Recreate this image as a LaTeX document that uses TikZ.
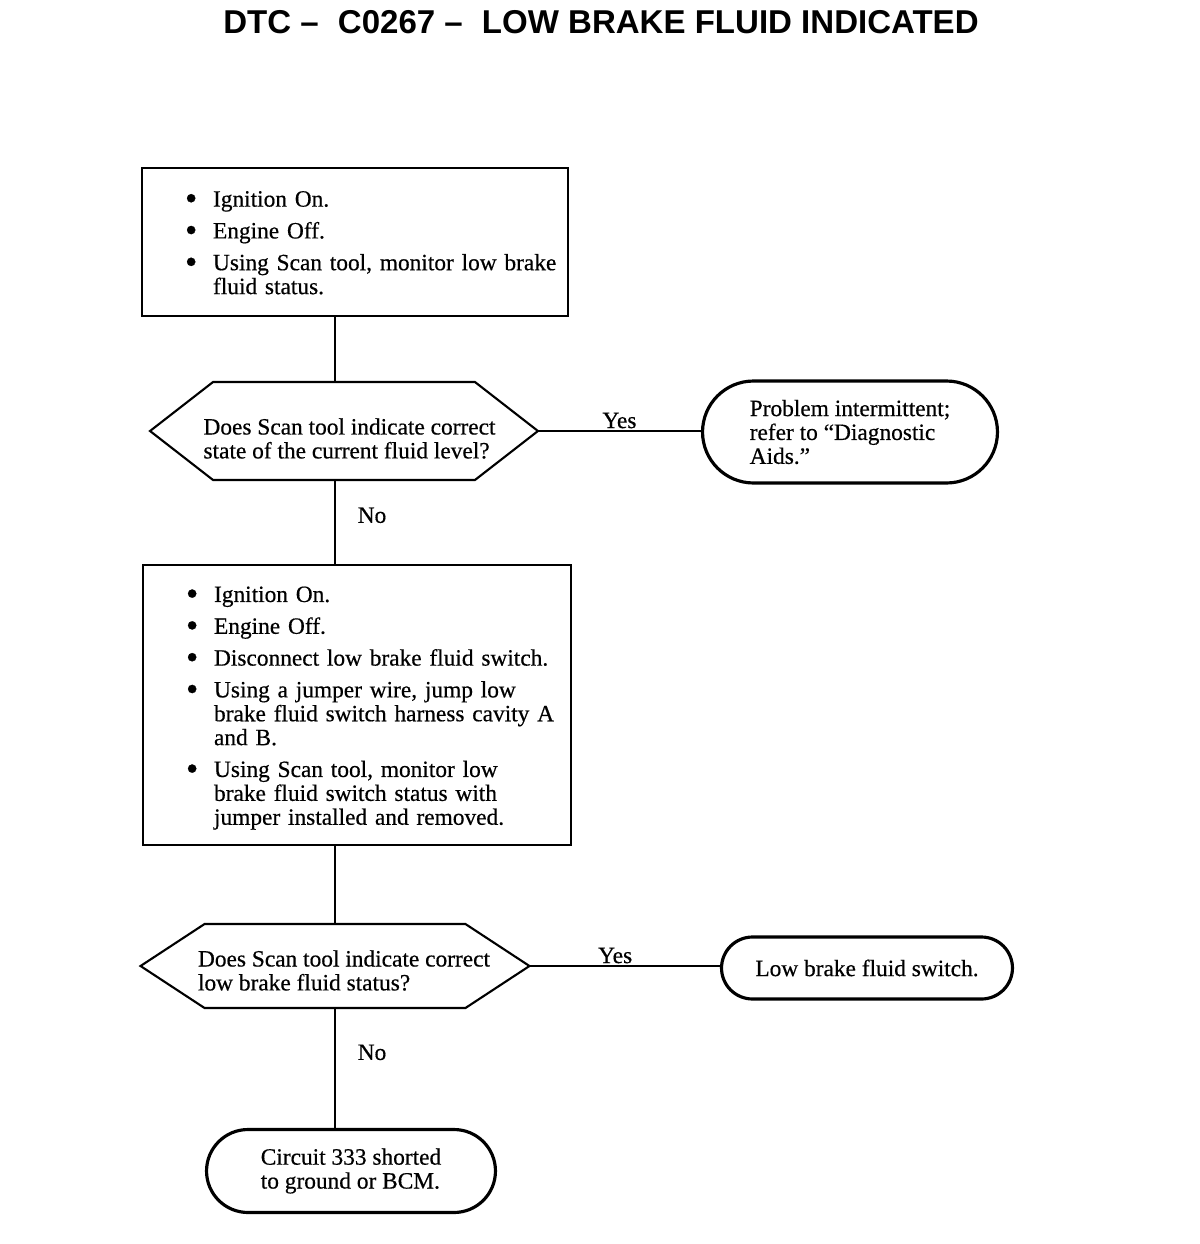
\documentclass[tikz,border=0pt]{standalone}
\usepackage{fontspec}
\setmainfont{Liberation Serif}
\newfontfamily\bodyfont{Liberation Serif}[Ligatures=TeX, FakeBold=0.5]
\newfontfamily\titlefont{Liberation Sans}[Ligatures=TeX]
\usetikzlibrary{calc}
\usetikzlibrary{shapes.misc}
\newcommand{\txt}{\bodyfont\fontsize{13.3}{13.6}\selectfont}
\newcommand{\bitem}[1]{\par\noindent\hspace*{0.86cm}%
  \makebox[0.56cm][l]{\raisebox{-0.3ex}{\scalebox{1.5}{\textbullet}}}%
  \parbox[t]{6.9cm}{\raggedright\strut #1\strut}\par\prevdepth=\dp\strutbox}
\newcommand{\hexdraw}[2]{\draw [hexline] (#1.west) -- ($(#1.north west)+(#2,0)$)
  -- ($(#1.north east)+(-#2,0)$) -- (#1.east) -- ($(#1.south east)+(-#2,0)$)
  -- ($(#1.south west)+(#2,0)$) -- cycle;}
\tikzset{box/.style = {draw, line width=1.2pt, inner sep=0, align=left, font=\txt}}
\tikzset{hexq/.style = {inner sep=0, outer sep=0}}
\tikzset{hext/.style = {align=left, inner sep=0, font=\txt}}
\tikzset{hexline/.style = {line width=1.2pt, line join=miter}}
\tikzset{term/.style = {draw, rounded rectangle, line width=1.8pt, inner sep=0, align=left, font=\txt}}
\tikzset{link/.style = {line width=1.1pt}}
\tikzset{lbl/.style = {inner sep=1pt, font=\txt}}

\begin{document}
\begin{tikzpicture}[x=0.02cm, y=-0.02cm]
  \useasboundingbox (0,0) rectangle (1200,1244);
  \node (title) at (601,22) {\titlefont\bfseries\fontsize{18.8}{22}\selectfont
    DTC – \hspace{0.2cm}C0267 – \hspace{0.2cm}LOW BRAKE FLUID INDICATED};
  \coordinate (spine) at (335,0);

  \node [box, text width=8.52cm, minimum height=2.96cm] (s1) at (355,242) {%
    \bitem{Ignition On.}\vspace{4.5pt}
    \bitem{Engine Off.}\vspace{4.5pt}
    \bitem{Using Scan tool, monitor low brake\\fluid status.}};

  \node [hexq, minimum width=7.76cm, minimum height=1.96cm,
    label={[hext, xshift=0.11cm, yshift=-0.15cm]center:Does Scan tool indicate correct\\state of the current fluid level?}] (q1) at (344,431) {};
  \hexdraw{q1}{63}

  \node [term, minimum width=5.9cm, minimum height=2.04cm] (t1) at (850,432)
    {Problem intermittent;\\refer to ``Diagnostic\\Aids.''};

  \node [box, text width=8.56cm, minimum height=5.6cm] (s2) at (357,705) {%
    \bitem{Ignition On.}\vspace{4.5pt}
    \bitem{Engine Off.}\vspace{4.5pt}
    \bitem{Disconnect low brake fluid switch.}\vspace{4.5pt}
    \bitem{Using a jumper wire, jump low\\brake fluid switch harness cavity A\\and B.}\vspace{4.5pt}
    \bitem{Using Scan tool, monitor low\\brake fluid switch status with\\jumper installed and removed.}};

  \node [hexq, minimum width=7.78cm, minimum height=1.68cm,
    label={[hext, xshift=0.18cm, yshift=-0.09cm]center:Does Scan tool indicate correct\\low brake fluid status?}] (q2) at (335,966) {};
  \hexdraw{q2}{64}

  \node [term, minimum width=5.82cm, minimum height=1.24cm] (t2) at (867,968)
    {Low brake fluid switch.};

  \node [term, minimum width=5.78cm, minimum height=1.66cm] (t3) at (351,1171)
    {Circuit 333 shorted\\to ground or BCM.};

  \draw [link] (s1.south -| spine) -- (q1.north -| spine);
  \draw [link] (q1.east) -- (q1.east -| t1.west) node [midway, above, lbl] {Yes};
  \draw [link] (q1.south -| spine) -- (s2.north -| spine) node [pos=0.42, right=0.4cm, lbl] {No};
  \draw [link] (s2.south -| spine) -- (q2.north -| spine);
  \draw [link] (q2.east) -- (q2.east -| t2.west) node [pos=0.45, above, lbl] {Yes};
  \draw [link] (q2.south -| spine) -- (t3.north -| spine) node [pos=0.37, right=0.4cm, lbl] {No};
\end{tikzpicture}
\end{document}
